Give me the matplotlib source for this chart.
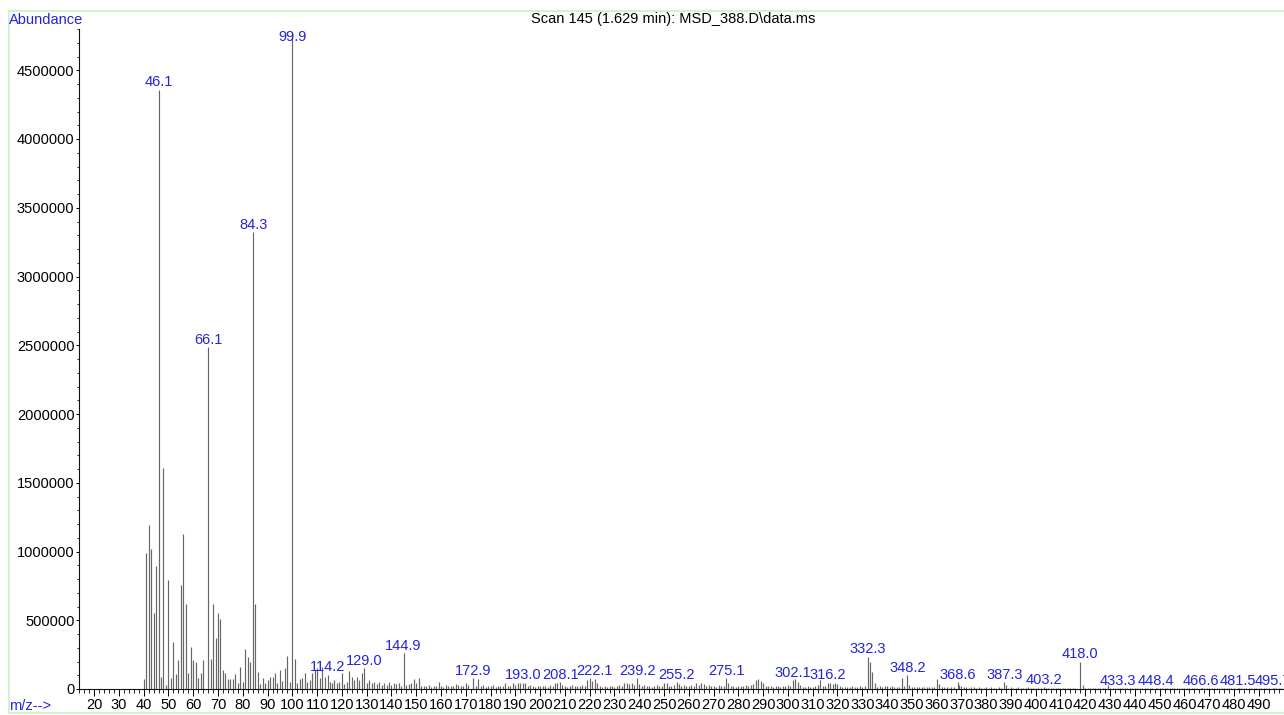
import matplotlib
matplotlib.use("Agg")
import matplotlib.pyplot as plt
from matplotlib.patches import Rectangle
from matplotlib.ticker import MultipleLocator, FixedLocator
import numpy as np

plt.rcParams['font.family'] = ['Liberation Sans', 'DejaVu Sans']

# ---------------- data ----------------
mz_low = [40, 41, 42, 43, 44, 45, 46.1, 47, 48, 49, 50,
          51, 52, 53, 54, 55, 56, 57, 58, 59, 60, 61, 62, 63, 64,
          66.1,
          67, 68, 69, 70, 71, 72, 73, 74, 75, 76, 77, 78, 79, 80, 81, 82, 83,
          84.3,
          85, 86, 87, 88, 89, 90, 91, 92, 93, 94, 95, 96, 97, 98, 99,
          99.9, 101]
ab_low = [73000, 990000, 1190000, 1020000, 555000, 895000, 4360000, 87000, 1610000, 30000, 793000,
          78000, 340000, 109000, 211000, 757000, 1130000, 616000, 119000, 303000, 211000, 199000, 80000, 116000, 211000,
          2485000,
          216000, 616000, 369000, 555000, 509000, 138000, 114000, 73000, 73000, 73000, 107000, 46000, 158000, 51000, 291000, 235000, 196000,
          3322000,
          616000, 126000, 34000, 77000, 45000, 65000, 85000, 90000, 119000, 46000, 138000, 60000, 150000, 240000, 51000,
          4780000, 216000]

mz_mid = [102, 103, 104, 105, 106, 107, 108, 109, 110, 111, 112, 113, 114.2, 115, 116, 117, 118, 119, 120,
          121, 122, 123, 124, 125, 126, 127, 128, 129.0, 130, 131, 132, 133, 134, 135, 136, 137, 138, 139, 140,
          141, 142, 143, 144, 144.9, 146, 147, 148, 149, 150, 151, 152, 153, 154, 155, 156, 157, 158, 159, 160,
          161, 162, 163, 164, 165, 166, 167, 168, 169, 170, 171, 172.9, 174, 175, 176, 177, 178, 179, 180,
          181, 182, 183, 184, 185, 186, 187, 188, 189, 190, 191, 192, 193.0, 194, 195, 196, 197, 198, 199, 200,
          201, 202, 203, 204, 205, 206, 207, 208.1, 209, 210, 211, 212, 213, 214, 215, 216, 217, 218, 219, 220,
          221, 222.1, 223, 224, 225, 226, 227, 228, 229, 230, 231, 232, 233, 234, 235, 236, 237, 238, 239.2, 240,
          241, 242, 243, 244, 245, 246, 247, 248, 249, 250]
ab_mid = [41000, 70000, 78000, 114000, 53000, 65000, 114000, 138000, 150000, 78000, 158000, 90000, 105000, 53000, 41000, 65000, 41000, 53000, 119000,
          36000, 53000, 133000, 90000, 65000, 85000, 65000, 114000, 150000, 41000, 65000, 41000, 53000, 36000, 53000, 29000, 41000, 29000, 53000, 29000,
          46000, 36000, 41000, 22000, 260000, 29000, 34000, 41000, 70000, 41000, 78000, 22000, 25000, 20000, 29000, 18000, 25000, 20000, 53000, 22000,
          18000, 29000, 20000, 25000, 22000, 36000, 29000, 25000, 20000, 41000, 29000, 82000, 25000, 70000, 22000, 29000, 18000, 25000, 20000,
          29000, 18000, 22000, 25000, 20000, 41000, 22000, 25000, 41000, 29000, 46000, 46000, 46000, 41000, 25000, 29000, 22000, 18000, 25000, 20000,
          22000, 25000, 18000, 29000, 25000, 46000, 46000, 48000, 30000, 22000, 18000, 25000, 29000, 20000, 25000, 22000, 29000, 25000, 65000, 78000,
          55000, 75000, 45000, 25000, 18000, 22000, 15000, 20000, 25000, 18000, 22000, 29000, 25000, 46000, 46000, 40000, 46000, 30000, 78000, 36000,
          25000, 29000, 20000, 25000, 18000, 22000, 29000, 20000, 25000, 41000]

mz_high = [251, 252, 253, 254, 255.2, 256, 257, 258, 259, 260, 261, 262, 263, 264, 265, 266, 267, 268, 269, 270,
           271, 272, 273, 274, 275.1, 276, 277, 278, 279, 280, 281, 282, 283, 284, 285, 286, 287, 288, 289, 290,
           291, 292, 293, 294, 295, 296, 297, 298, 299, 300, 301, 302.1, 303, 304, 305, 306, 307, 308, 309, 310,
           311, 312, 313, 314, 315, 316.2, 317, 318, 319, 320, 321, 322, 323, 324, 325, 326, 327, 328, 329, 330,
           331, 332.3, 333, 334, 335, 336, 337, 338, 339, 340, 341, 342, 343, 344, 345, 346, 347, 348.2, 349, 350,
           351, 352, 353, 354, 355, 356, 357, 358, 359, 360, 361, 362, 363, 364, 365, 366, 367, 368.6, 369, 370,
           371, 372, 373, 374, 375, 376, 377, 378, 379, 380, 381, 382, 383, 384, 385, 386, 387.3, 388, 389, 390,
           391, 392, 393, 394, 395, 396, 397, 398, 399, 400, 401, 402, 403.2, 404, 405, 406, 407, 408, 409, 410,
           411, 412, 413, 414, 415, 416, 418.0, 419, 420, 421, 422, 423, 424, 425, 426, 427, 428, 429, 430,
           431, 432, 433.3, 434, 435, 436, 437, 438, 439, 440, 441, 442, 443, 444, 445, 446, 447, 448.4, 449, 450,
           451, 452, 453, 454, 455, 456, 457, 458, 459, 460, 461, 462, 463, 464, 465, 466.6, 467, 468, 469, 470,
           471, 472, 473, 474, 475, 476, 477, 478, 479, 480, 481.5, 482, 483, 484, 485, 486, 487, 488, 489, 490,
           491, 492, 493, 494, 495.7, 496, 497, 498, 499]
ab_high = [41000, 25000, 22000, 29000, 53000, 36000, 22000, 29000, 20000, 25000, 29000, 22000, 41000, 30000, 41000, 36000, 25000, 29000, 22000, 25000,
           18000, 29000, 22000, 25000, 78000, 41000, 22000, 25000, 18000, 22000, 25000, 20000, 29000, 22000, 29000, 36000, 65000, 70000, 60000, 41000,
           25000, 20000, 22000, 18000, 25000, 22000, 18000, 25000, 20000, 29000, 22000, 65000, 70000, 53000, 29000, 18000, 15000, 20000, 12000, 18000,
           22000, 29000, 65000, 25000, 20000, 46000, 41000, 36000, 41000, 36000, 20000, 15000, 18000, 12000, 15000, 20000, 12000, 18000, 22000, 15000,
           20000, 235000, 199000, 126000, 41000, 18000, 22000, 15000, 20000, 25000, 18000, 20000, 15000, 12000, 18000, 82000, 20000, 102000, 29000, 15000,
           12000, 18000, 15000, 12000, 18000, 15000, 12000, 15000, 18000, 70000, 36000, 18000, 12000, 15000, 10000, 12000, 15000, 48000, 29000, 25000,
           12000, 15000, 10000, 12000, 15000, 10000, 12000, 8000, 10000, 12000, 8000, 12000, 10000, 8000, 12000, 10000, 53000, 29000, 10000, 12000,
           8000, 10000, 12000, 8000, 10000, 8000, 12000, 10000, 8000, 10000, 8000, 10000, 12000, 8000, 10000, 6000, 8000, 10000, 6000, 8000,
           10000, 6000, 8000, 10000, 8000, 6000, 199000, 29000, 8000, 6000, 8000, 5000, 6000, 8000, 5000, 6000, 8000, 29000, 6000,
           5000, 6000, 8000, 5000, 6000, 4000, 7000, 5000, 6000, 4000, 5000, 7000, 4000, 6000, 5000, 4000, 6000, 6000, 4000, 5000,
           6000, 4000, 5000, 7000, 4000, 5000, 6000, 4000, 5000, 6000, 4000, 5000, 6000, 4000, 5000, 5000, 4000, 6000, 4000, 5000,
           4000, 6000, 4000, 5000, 4000, 6000, 4000, 5000, 4000, 6000, 5000, 4000, 5000, 4000, 6000, 4000, 5000, 4000, 5000, 4000,
           5000, 4000, 6000, 4000, 5000, 4000, 5000, 4000, 4000]

label_mz = [46.1, 66.1, 84.3, 99.9, 114.2, 129.0, 144.9, 172.9, 193.0, 208.1, 222.1, 239.2, 255.2,
            275.1, 302.1, 316.2, 332.3, 348.2, 368.6, 387.3, 403.2, 418.0, 433.3, 448.4, 466.6, 481.5, 495.7]

title_text = "Scan 145 (1.629 min): MSD_388.D\\data.ms"
y_ticks = [0, 500000, 1000000, 1500000, 2000000, 2500000, 3000000, 3500000, 4000000, 4500000]
x_major = list(range(20, 500, 10))

# ---------------- plot ----------------
mz = np.array(mz_low + mz_mid + mz_high, dtype=float)
ab = np.array(ab_low + ab_mid + ab_high, dtype=float)
lookup = dict(zip(np.round(mz, 1), ab))

W, H = 1284, 715
FS = 10.5
fig = plt.figure(figsize=(W / 100, H / 100), dpi=100)
fig.patch.set_facecolor('white')

ax = fig.add_axes([79 / W, 26 / H, 1 - 79 / W, (689 - 29) / H])
ax.set_xlim(13.9, 500.2)
ax.set_ylim(0, 4.80e6)

ax.vlines(mz, 0, ab, colors='#666666', linewidth=0.85)

blue = '#2424d8'
for m in label_mz:
    v = lookup[round(m, 1)]
    yl = min(v, 4.69e6)
    ax.annotate(f"{m:.1f}", xy=(m, yl), xytext=(0, 2.3), textcoords='offset points',
                ha='center', va='baseline', fontsize=FS, color=blue, clip_on=False)

for s in ['top', 'right']:
    ax.spines[s].set_visible(False)
for s in ['left', 'bottom']:
    ax.spines[s].set_linewidth(0.8)
    ax.spines[s].set_color('#111111')

ax.xaxis.set_major_locator(FixedLocator(x_major))
ax.xaxis.set_minor_locator(MultipleLocator(2))
ax.set_xticklabels([str(v) for v in x_major])
ax.yaxis.set_major_locator(FixedLocator(y_ticks))
ax.yaxis.set_minor_locator(MultipleLocator(100000))
ax.set_yticklabels([str(v) for v in y_ticks])

ax.tick_params(axis='x', which='major', direction='out', length=5, width=0.7, pad=1.2, labelsize=FS)
ax.tick_params(axis='x', which='minor', direction='out', length=3, width=0.6)
ax.tick_params(axis='y', which='major', direction='out', length=2.5, width=0.7, pad=0.8, labelsize=FS)
ax.tick_params(axis='y', which='minor', direction='out', length=1.5, width=0.6)

fig.text(9 / W, 1 - 20 / H, "Abundance", ha='left', va='center', fontsize=FS, color=blue)
fig.text(673 / W, 1 - 19 / H, title_text, ha='center', va='center', fontsize=FS, color='black')
fig.text(9 / W, 1 - 706 / H, "m/z-->", ha='left', va='center', fontsize=FS, color=blue)

fig.patches.append(Rectangle((9 / W, 2 / H), 1.2, 1 - 13 / H, transform=fig.transFigure,
                             fill=False, edgecolor='#c8f0c8', linewidth=1.2, zorder=-1))

fig.savefig("out.png", dpi=100, facecolor='white')
